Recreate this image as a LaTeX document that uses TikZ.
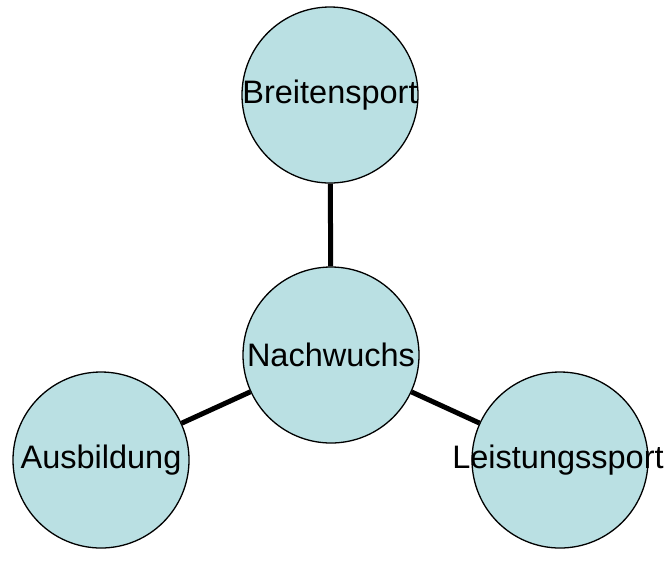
\documentclass[tikz,border=0pt]{standalone}
\usepackage{fontspec}
\setmainfont{Liberation Sans}
\usepackage{tikz}
\usetikzlibrary{calc}

\definecolor{bubblefill}{RGB}{186,224,227}

\begin{document}
\begin{tikzpicture}[x=1pt,y=-1pt,
        bubble/.style={circle,draw=black,line width=1.3pt,fill=bubblefill,
          minimum size=176pt,inner sep=0pt},
        caption/.style={inner sep=0pt,font=\fontsize{32.5}{38}\selectfont},
        link/.style={line width=5pt,black}]
        \useasboundingbox (0,0) rectangle (668,566);

        \node[bubble] (N) at (331,355) {};
        \node[bubble] (B) at (330,95) {};
        \node[bubble] (A) at (101,460) {};
        \node[bubble] (L) at (560,460) {};

        \draw[link] (B) -- (N);
        \draw[link] (A) -- (N);
        \draw[link] (L) -- (N);

        \node[caption] (Ntext) at (N) {Nachwuchs};
        \node[caption] (Btext) at (B) {Breitensport};
        \node[caption] (Atext) at (A) {Ausbildung};
        \node[caption] (Ltext) at ($(L)+(-2,0)$) {Leistungssport};
      \end{tikzpicture}
\end{document}
